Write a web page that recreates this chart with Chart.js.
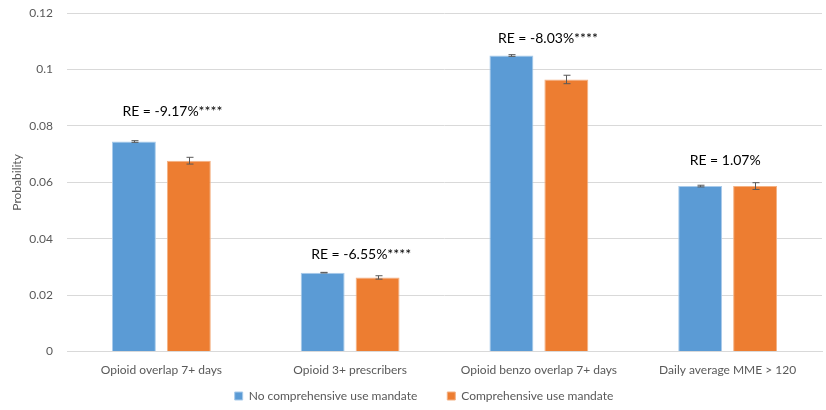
<!DOCTYPE html>
<html>
<head>
<meta charset="utf-8">
<script src="https://cdn.jsdelivr.net/npm/chart.js@4.4.0/dist/chart.umd.min.js"></script>
<style>
  html, body { margin: 0; padding: 0; background: #fff; }
  #wrap { width: 826px; height: 410px; }
</style>
</head>
<body>
<div id="wrap"><canvas id="c" width="826" height="410"></canvas></div>
<script>
// Outcome categories
const categories = ["Opioid overlap 7+ days", "Opioid 3+ prescribers", "Opioid benzo overlap 7+ days", "Daily average MME > 120"];
// Predicted probabilities by mandate status
const noMandate = [0.0745, 0.0280, 0.1050, 0.0587];
const withMandate = [0.0677, 0.0263, 0.0965, 0.0587];
// Half-width of the confidence interval for each bar
const noMandateErr = [0.0003, 0.0001, 0.0003, 0.0003];
const withMandateErr = [0.0012, 0.0006, 0.0015, 0.0012];
// Relative effect labels
const reLabels = ["RE = -9.17%****", "RE = -6.55%****", "RE = -8.03%****", "RE = 1.07%"];
// Y axis ticks
const yTicks = [0, 0.02, 0.04, 0.06, 0.08, 0.1, 0.12];

const FONT = "Lato, 'Open Sans', sans-serif";
const TEXT = "#595959";

const errorBars = {
  id: "errorBars",
  afterDatasetsDraw(chart) {
    const ctx = chart.ctx;
    const y = chart.scales.y;
    const errs = [noMandateErr, withMandateErr];
    ctx.save();
    ctx.strokeStyle = "#595959";
    ctx.lineWidth = 1;
    chart.data.datasets.forEach((ds, di) => {
      const meta = chart.getDatasetMeta(di);
      meta.data.forEach((bar, i) => {
        const v = ds.data[i], e = errs[di][i];
        const x = Math.round(bar.x) + 0.5;
        const yt = y.getPixelForValue(v + e);
        const yb = y.getPixelForValue(v - e);
        ctx.beginPath();
        ctx.moveTo(x, yt); ctx.lineTo(x, yb);
        ctx.moveTo(x - 3, yt); ctx.lineTo(x + 4, yt);
        ctx.moveTo(x - 3, yb); ctx.lineTo(x + 4, yb);
        ctx.stroke();
      });
    });
    ctx.restore();
  }
};

const reText = {
  id: "reText",
  afterDatasetsDraw(chart, args, opts) {
    const ctx = chart.ctx;
    const xs = chart.scales.x, y = chart.scales.y;
    ctx.save();
    ctx.font = "14px " + FONT;
    ctx.fillStyle = "#000";
    ctx.textAlign = "left";
    ctx.textBaseline = "middle";
    reLabels.forEach((t, i) => {
      const top = y.getPixelForValue(Math.max(noMandate[i] + noMandateErr[i], withMandate[i] + withMandateErr[i]));
      const cx = xs.getPixelForValue(i);
      ctx.fillText(t, cx + opts.dx[i], top - opts.lift[i]);
    });
    ctx.restore();
  }
};

// Move the legend row: a little right of centre and tucked up under the axis labels
const legendShift = {
  id: "legendShift",
  afterLayout(chart, args, opts) {
    const lg = chart.legend;
    if (lg) {
      lg.left += opts.dx; lg.right += opts.dx;
      lg.top += opts.dy; lg.bottom += opts.dy;
    }
  }
};

new Chart(document.getElementById("c"), {
  type: "bar",
  data: {
    labels: categories,
    datasets: [
      { label: "No comprehensive use mandate", data: noMandate, backgroundColor: "#5b9bd5", borderColor: "#a9cbeb", borderWidth: 1, borderSkipped: "bottom" },
      { label: "Comprehensive use mandate", data: withMandate, backgroundColor: "#ed7d31", borderColor: "#f4b183", borderWidth: 1, borderSkipped: "bottom" }
    ]
  },
  options: {
    responsive: false,
    animation: false,
    devicePixelRatio: 1,
    layout: { padding: { top: 0, right: 4, left: 0, bottom: -30 } },
    datasets: { bar: { categoryPercentage: 0.582, barPercentage: 0.8 } },
    scales: {
      x: {
        grid: { display: false, drawTicks: false },
        border: { color: "#d9d9d9" },
        ticks: { color: TEXT, font: { family: FONT, size: 12 }, padding: 11, maxRotation: 0 }
      },
      y: {
        min: 0, max: 0.12,
        afterBuildTicks(s) { s.ticks = yTicks.map(v => ({ value: v })); },
        afterFit(s) { s.width = 67; },
        grid: { color: "#d9d9d9", drawTicks: true, tickLength: 8, tickColor: "rgba(0,0,0,0)" },
        border: { display: false },
        ticks: { color: TEXT, font: { family: FONT, size: 12 }, padding: 6, callback: v => String(v) },
        title: { display: true, text: "Probability", color: TEXT, font: { family: FONT, size: 12 }, padding: { top: 10, bottom: 0 } }
      }
    },
    plugins: {
      legend: {
        position: "bottom",
        labels: { color: TEXT, font: { family: FONT, size: 12 }, boxWidth: 8, boxHeight: 8, padding: 30 }
      },
      tooltip: { enabled: false },
      reText: { dx: [-39, -39, -41, -38], lift: [29, 18, 16, 22] },
      legendShift: { dx: 13, dy: -28 }
    }
  },
  plugins: [errorBars, reText, legendShift]
});
</script>
</body>
</html>
